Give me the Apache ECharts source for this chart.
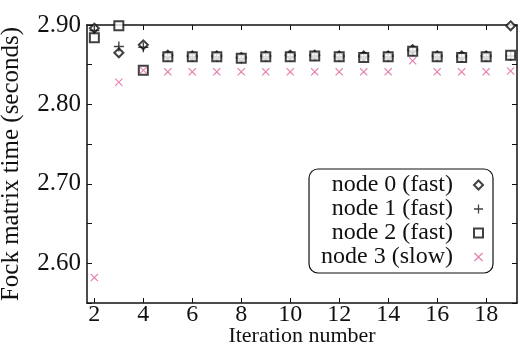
<!DOCTYPE html>
<html>
<head>
<meta charset="utf-8">
<script src="https://cdn.jsdelivr.net/npm/echarts@6/dist/echarts.min.js"></script>
<style>
  html, body { margin: 0; padding: 0; background: #fff; }
  #chart { width: 520px; height: 350px; }
</style>
</head>
<body>
<div id="chart"></div>
<script>
var iterations = [2, 3, 4, 5, 6, 7, 8, 9, 10, 11, 12, 13, 14, 15, 16, 17, 18, 19];
var node0 = [2.896, 2.865, 2.875, 2.862, 2.861, 2.861, 2.859, 2.861, 2.862, 2.862, 2.861, 2.861, 2.861, 2.869, 2.861, 2.861, 2.861, 2.899];
var node1 = [2.893, 2.873, 2.872, 2.860, 2.860, 2.860, 2.858, 2.860, 2.860, 2.861, 2.860, 2.860, 2.860, 2.867, 2.860, 2.859, 2.860, 2.861];
var node2 = [2.884, 2.899, 2.843, 2.860, 2.860, 2.860, 2.858, 2.860, 2.860, 2.861, 2.860, 2.859, 2.860, 2.867, 2.860, 2.859, 2.860, 2.862];
var node3 = [2.582, 2.828, 2.843, 2.841, 2.841, 2.841, 2.841, 2.841, 2.841, 2.841, 2.841, 2.841, 2.841, 2.855, 2.841, 2.841, 2.841, 2.842];
var names = ['node 0 (fast)', 'node 1 (fast)', 'node 2 (fast)', 'node 3 (slow)'];
var xTicks = [2, 4, 6, 8, 10, 12, 14, 16, 18];
var yTicks = [2.55, 2.60, 2.65, 2.70, 2.75, 2.80, 2.85, 2.90];
var yLabels = [2.60, 2.70, 2.80, 2.90];

var font = 'Liberation Serif';
var plusPath = 'path://M4.3,0h1.4v10h-1.4z M0,4.3h10v1.4h-10z';
var crossPath = 'path://M1,0L5,4L9,0L10,1L6,5L10,9L9,10L5,6L1,10L0,9L4,5L0,1Z';

function pairs(vals) {
    return iterations.map(function (x, i) { return [x, vals[i]]; });
}

var myChart = echarts.init(document.getElementById('chart'));

function xAxisOf(pos, showLabel) {
    return {
        type: 'value',
        position: pos,
        min: 1.7,
        max: 19.26,
        name: showLabel ? 'Iteration number' : '',
        nameLocation: 'middle',
        nameGap: 33,
        nameMoveOverlap: false,
        nameTextStyle: { fontFamily: font, fontSize: 22, color: '#111', verticalAlign: 'middle' },
        splitLine: { show: false },
        axisLine: { show: true, onZero: false, lineStyle: { color: '#111', width: 1.5 } },
        axisTick: { show: true, inside: true, length: 5, customValues: xTicks, lineStyle: { color: '#111' } },
        axisLabel: {
            show: showLabel, customValues: xTicks, margin: 0,
            fontFamily: font, fontSize: 24, color: '#111'
        }
    };
}

function yAxisOf(pos, showLabel) {
    return {
        type: 'value',
        position: pos,
        min: 2.55,
        max: 2.90,
        name: showLabel ? 'Fock matrix time (seconds)' : '',
        nameLocation: 'middle',
        nameGap: 63,
        nameMoveOverlap: false,
        nameTextStyle: { fontFamily: font, fontSize: 25, color: '#111' },
        splitLine: { show: false },
        axisLine: { show: true, onZero: false, lineStyle: { color: '#111', width: 1.5 } },
        axisTick: { show: true, inside: true, length: 5, customValues: yTicks, lineStyle: { color: '#111' } },
        axisLabel: {
            show: showLabel, customValues: yLabels, margin: 6,
            fontFamily: font, fontSize: 25, color: '#111',
            formatter: function (v) { return v.toFixed(2); }
        }
    };
}

var option = {
    animation: false,
    backgroundColor: '#fff',
    grid: { left: 87, right: 3, top: 25, bottom: 47, containLabel: false, outerBoundsMode: 'none' },
    legend: {
        orient: 'vertical',
        align: 'right',
        right: 27,
        top: 169,
        itemGap: 0,
        itemWidth: 9,
        itemHeight: 9,
        padding: [4, 9, 4, 12],
        borderColor: '#111',
        borderWidth: 1.2,
        borderRadius: 9,
        backgroundColor: '#fff',
        textStyle: { fontFamily: font, fontSize: 24, color: '#111', lineHeight: 21, padding: [0, 16, 0, 0] },
        data: names
    },
    xAxis: [xAxisOf('bottom', true), xAxisOf('top', false)],
    yAxis: [yAxisOf('left', true), yAxisOf('right', false)],
    series: [
        {
            name: names[0], type: 'scatter', data: pairs(node0),
            symbol: 'emptyDiamond', symbolSize: 9,
            itemStyle: { color: '#111', borderColor: '#111', borderWidth: 1.7 }
        },
        {
            name: names[1], type: 'scatter', data: pairs(node1),
            symbol: plusPath, symbolSize: 10,
            itemStyle: { color: '#111' }
        },
        {
            name: names[2], type: 'scatter', data: pairs(node2),
            symbol: 'emptyRect', symbolSize: 9,
            itemStyle: { color: '#111', borderColor: '#111', borderWidth: 1.7 }
        },
        {
            name: names[3], type: 'scatter', data: pairs(node3),
            symbol: crossPath, symbolSize: 8,
            itemStyle: { color: '#e0609e' }
        }
    ]
};
myChart.setOption(option);
</script>
</body>
</html>
